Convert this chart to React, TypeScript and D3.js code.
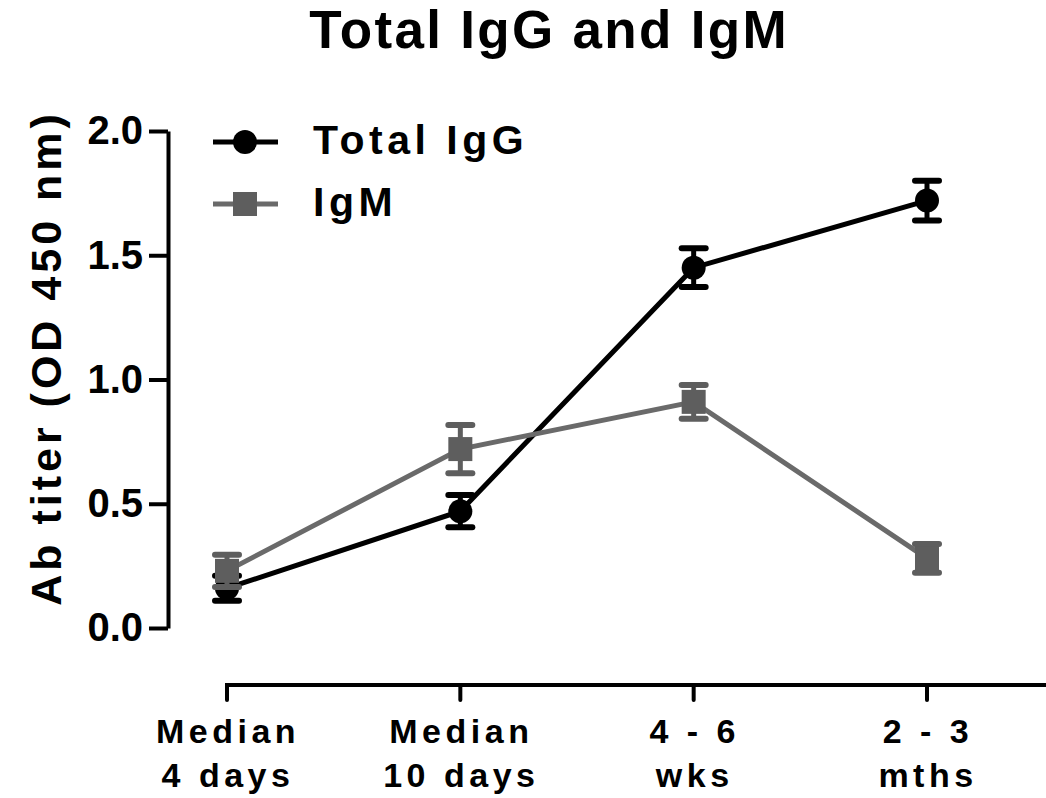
import { useEffect, useRef } from 'react';
import * as d3 from 'd3';

// time points (two-line tick labels)
const timepoints = ['Median\n4 days', 'Median\n10 days', '4 - 6\nwks', '2 - 3\nmths'];
const yTicks = [0, 0.5, 1.0, 1.5, 2.0];

// mean and SEM
const iggMean = [0.16, 0.47, 1.45, 1.72];
const iggErr = [0.05, 0.065, 0.078, 0.08];
const igmMean = [0.23, 0.72, 0.91, 0.28];
const igmErr = [0.065, 0.097, 0.068, 0.058];

const FONT = '"Liberation Sans", Arial, Helvetica, sans-serif';
const W = 1046;
const H = 798;

const App = () => {
  const ref = useRef<SVGSVGElement>(null);

  useEffect(() => {
    if (!ref.current) return;
    document.body.style.margin = '0';
    const svg = d3.select(ref.current);
    svg.selectAll('*').remove();

    const x = d3.scalePoint<string>().domain(timepoints).range([227, 927]);
    const y = d3.scaleLinear().domain([0, 2]).range([628, 131]);

    // title
    svg.append('text')
      .attr('x', 549).attr('y', 48)
      .attr('text-anchor', 'middle')
      .style('font-family', FONT).style('font-weight', 'bold')
      .style('font-size', '53px').style('letter-spacing', '2.3px')
      .text('Total IgG and IgM');

    // y axis
    const yAxis = svg.append('g').attr('transform', 'translate(168,0)')
      .call(d3.axisLeft(y).tickValues(yTicks).tickFormat(d3.format('.1f')).tickSize(19).tickPadding(6).tickSizeOuter(0));
    yAxis.select('.domain').attr('stroke', '#000').attr('stroke-width', 4);
    yAxis.selectAll('.tick line').attr('stroke', '#000').attr('stroke-width', 4);
    yAxis.selectAll('.tick text')
      .style('font-family', FONT).style('font-weight', 'bold').style('font-size', '40px')
      .attr('fill', '#000');

    // y label
    svg.append('text')
      .attr('transform', 'translate(61,358) rotate(-90)')
      .attr('text-anchor', 'middle')
      .style('font-family', FONT).style('font-weight', 'bold')
      .style('font-size', '43px').style('letter-spacing', '4px')
      .text('Ab titer (OD 450 nm)');

    // x axis, runs off the right edge
    const xg = svg.append('g').attr('transform', 'translate(0,685)');
    xg.append('line')
      .attr('x1', x(timepoints[0])! - 2).attr('x2', W)
      .attr('stroke', '#000').attr('stroke-width', 4);
    const tick = xg.selectAll('g.tick').data(timepoints).enter().append('g')
      .attr('class', 'tick')
      .attr('transform', d => `translate(${x(d)},0)`);
    tick.append('line').attr('y1', 0).attr('y2', 15)
      .attr('stroke', '#000').attr('stroke-width', 4).attr('stroke-linecap', 'round');
    const lbl = tick.append('text')
      .attr('text-anchor', 'middle')
      .style('font-family', FONT).style('font-weight', 'bold')
      .style('font-size', '34px').style('letter-spacing', '4.5px');
    lbl.selectAll('tspan').data(d => d.split('\n')).enter().append('tspan')
      .attr('x', 1).attr('y', (d, i) => 58 + i * 44)
      .text(d => d);

    const series = [
      { name: 'Total IgG', mean: iggMean, err: iggErr, color: '#000', line: '#000', shape: 'circle' },
      { name: 'IgM', mean: igmMean, err: igmErr, color: '#5e5e5e', line: '#6a6a6a', shape: 'square' },
    ];

    const line = d3.line<number>().x((d, i) => x(timepoints[i])!).y(d => y(d));

    series.forEach(s => {
      const g = svg.append('g');
      g.append('path').datum(s.mean).attr('d', line)
        .attr('fill', 'none').attr('stroke', s.line).attr('stroke-width', 5);
      s.mean.forEach((m, i) => {
        const cx = x(timepoints[i])!;
        const lo = y(m - s.err[i]);
        const hi = y(m + s.err[i]);
        g.append('line').attr('x1', cx).attr('x2', cx).attr('y1', lo).attr('y2', hi)
          .attr('stroke', s.color).attr('stroke-width', 5);
        [lo, hi].forEach(yy => {
          g.append('line').attr('x1', cx - 12).attr('x2', cx + 12).attr('y1', yy).attr('y2', yy)
            .attr('stroke', s.color).attr('stroke-width', 6).attr('stroke-linecap', 'round');
        });
        if (s.shape === 'circle') {
          g.append('circle').attr('cx', cx).attr('cy', y(m)).attr('r', 12).attr('fill', s.color);
        } else {
          g.append('rect').attr('x', cx - 12).attr('y', y(m) - 12).attr('width', 24).attr('height', 24).attr('fill', s.color);
        }
      });
    });

    // legend
    const legend = svg.selectAll('g.legend').data(series).enter().append('g')
      .attr('class', 'legend')
      .attr('transform', (d, i) => `translate(0,${142 + i * 62})`);
    legend.append('line').attr('x1', 213).attr('x2', 278)
      .attr('stroke', d => d.line).attr('stroke-width', 5);
    legend.filter(d => d.shape === 'circle').append('circle')
      .attr('cx', 245).attr('r', 12).attr('fill', d => d.color);
    legend.filter(d => d.shape === 'square').append('rect')
      .attr('x', 233).attr('y', -12).attr('width', 24).attr('height', 24).attr('fill', d => d.color);
    legend.append('text')
      .attr('x', 313).attr('y', 12)
      .style('font-family', FONT).style('font-weight', 'bold')
      .style('font-size', '41px').style('letter-spacing', '4.5px')
      .text(d => d.name);
  }, []);

  return (
    <svg ref={ref} width={W} height={H}
      style={{ position: 'absolute', left: 0, top: 0, background: '#fff' }} />
  );
};

export default App;
